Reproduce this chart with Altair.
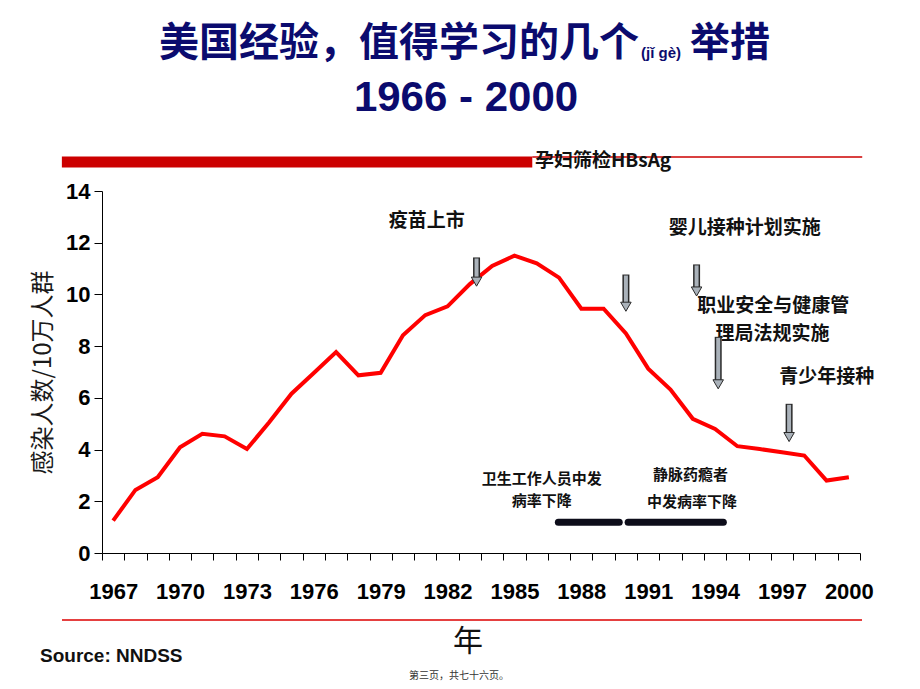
import altair as alt
import pandas as pd

# ---------------- data ----------------
years = list(range(1967, 2001))
incidence = [1.25, 2.44, 2.93, 4.09, 4.61, 4.51, 4.02, 5.06, 6.16, 6.96,
             7.77, 6.87, 6.97, 8.42, 9.20, 9.54, 10.40, 11.10, 11.50, 11.20,
             10.65, 9.45, 9.45, 8.49, 7.13, 6.32, 5.19, 4.80, 4.13, 4.02,
             3.90, 3.77, 2.80, 2.93]

first_label_year = 1967
label_step = 3
tick_bounds = [y - 0.5 for y in range(1967, 2002)]
y_ticks = [0, 2, 4, 6, 8, 10, 12, 14]

upper_notes = ["疫苗上市", "婴儿接种计划实施", "职业安全与健康管", "理局法规实施", "青少年接种"]
upper_x = [1981.07, 1995.33, 1996.61, 1996.57, 1999.01]
upper_y = [12.84, 12.58, 9.55, 8.48, 6.80]

lower_notes = ["卫生工作人员中发", "病率下降", "静脉药瘾者", "中发病率下降"]
lower_x = [1986.22, 1986.22, 1992.90, 1992.96]
lower_y = [2.85, 2.02, 3.02, 1.96]

arrow_x = [1983.30, 1990.00, 1993.17, 1994.14, 1997.32]
arrow_top = [11.43, 10.77, 11.16, 8.36, 5.77]
arrow_bottom = [10.32, 9.35, 9.94, 6.35, 4.31]

period_start = [1986.97, 1990.10]
period_end = [1989.70, 1994.37]
period_level = [1.19, 1.19]

screen_start = [1964.7]
screen_end = [1985.8]
screen_line_end = [2000.6]
screen_label = ["孕妇筛检HBsAg"]
screen_label_x = [1985.92]

# ---------------- styling ----------------
CJK = "Noto Sans CJK SC"
LAT = "Liberation Sans"
NAVY = "#0b0b6e"
RED = "#ff0000"
PLOT_W = 758
BAND = PLOT_W / 34.0

df = pd.DataFrame({"year": years, "rate": incidence})
df_up = pd.DataFrame({"year": upper_x, "rate": upper_y, "t": upper_notes})
df_low = pd.DataFrame({"year": lower_x, "rate": lower_y, "t": lower_notes})
df_arr = pd.DataFrame({"year": arrow_x, "rate": arrow_top, "bottom": arrow_bottom})
df_per = pd.DataFrame({"year": period_start, "x2": period_end, "rate": period_level})
df_scr = pd.DataFrame({"year": screen_start, "x2": screen_end, "x3": screen_line_end,
                       "lx": screen_label_x, "t": screen_label})
one = pd.DataFrame({"a": [0]})

xscale = alt.Scale(domain=[1966.5, 2000.5], nice=False, zero=False)
yscale = alt.Scale(domain=[0, 14], nice=False, zero=True)

label_expr = (f"(datum.value + 0.5 - {first_label_year}) % {label_step} == 0 && datum.value < 2000"
              " ? format(datum.value + 0.5, 'd') : ''")

XAX = alt.Axis(values=tick_bounds, labelExpr=label_expr, labelOffset=BAND / 2,
               title=None, tickSize=7, tickColor="black", domainColor="black",
               grid=False, orient="bottom", labelFlush=False, labelOverlap=False,
               labelPadding=21, labelFont=LAT, labelFontSize=22,
               labelFontWeight="bold", labelColor="black", labelBound=False)
YAX = alt.Axis(values=y_ticks, title="感染人数/10万人群", grid=False,
               tickSize=8, tickColor="black", domainColor="black",
               labelFont=LAT, labelFontSize=22, labelFontWeight="bold",
               labelColor="black", labelPadding=4,
               titleFont=CJK, titleFontSize=24, titleFontWeight="normal",
               titleColor="#1a1a1a", titlePadding=10)

def X(field="year:Q"):
    return alt.X(field, scale=xscale, axis=XAX)

def Y(field="rate:Q"):
    return alt.Y(field, scale=yscale, axis=YAX)

line = alt.Chart(df).mark_line(color=RED, strokeWidth=4).encode(x=X(), y=Y())

upper = alt.Chart(df_up).mark_text(font=CJK, fontSize=19, fontWeight="bold",
                                    color="#111111", align="center", baseline="middle").encode(
    x=X(), y=Y(), text="t:N")

lower = alt.Chart(df_low).mark_text(font=CJK, fontSize=15, fontWeight="bold",
                                     color="#111111", align="center", baseline="middle").encode(
    x=X(), y=Y(), text="t:N")

shaft_out = alt.Chart(df_arr).mark_rule(color="#2a2a2a", strokeWidth=7, y2Offset=-7).encode(
    x=X(), y=Y(), y2="bottom:Q")
shaft_in = alt.Chart(df_arr).mark_rule(color="#aab2ba", strokeWidth=4, yOffset=1, y2Offset=-6).encode(
    x=X(), y=Y(), y2="bottom:Q")
head = alt.Chart(df_arr).mark_point(shape="triangle-down", filled=True, fill="#aab2ba",
                                     stroke="#2a2a2a", strokeWidth=1, size=110,
                                     opacity=1, yOffset=-4.5).encode(
    x=X(), y=Y("bottom:Q"))

periods = alt.Chart(df_per).mark_rule(color="#0d0d1a", strokeWidth=7, strokeCap="round").encode(
    x=X(), x2="x2:Q", y=Y())

scr_bar = alt.Chart(df_scr).mark_rule(color="#cc0000", strokeWidth=11).encode(
    x=X(), x2="x2:Q", y=alt.value(-29))
scr_line = alt.Chart(df_scr).mark_rule(color="#cc0000", strokeWidth=1.5).encode(
    x=X("x2:Q"), x2="x3:Q", y=alt.value(-34))
scr_text = alt.Chart(df_scr).mark_text(font=CJK, fontSize=19, fontWeight="bold",
                                        color="#111111", align="left", baseline="middle").encode(
    x=X("lx:Q"), y=alt.value(-30), text="t:N")

def label(text, x, y, **kw):
    return alt.Chart(one).mark_text(text=text, **kw).encode(x=alt.value(x), y=alt.value(y))

t1 = label("美国经验，值得学习的几个", 537, -147, font=CJK, fontSize=40, fontWeight="bold",
           color=NAVY, align="right", baseline="middle")
t2 = label("(jǐ gè)", 539, -138, font=LAT, fontSize=15, fontWeight="bold",
           color=NAVY, align="left", baseline="middle")
t3 = label("举措", 588, -147, font=CJK, fontSize=40, fontWeight="bold",
           color=NAVY, align="left", baseline="middle")
t4 = label("1966 - 2000", 364, -93, font=LAT, fontSize=42, fontWeight="bold",
           color=NAVY, align="center", baseline="middle")

bottom_line = alt.Chart(one).mark_rule(color="#dd0000", strokeWidth=1.5).encode(
    x=alt.value(-40), x2=alt.value(760), y=alt.value(429))
year_title = label("年", 366, 451, font=CJK, fontSize=30, fontWeight="normal",
                   color="#111111", align="center", baseline="middle")
source = label("Source: NNDSS", -62, 465, font=LAT, fontSize=19, fontWeight="bold",
               color="#111111", align="left", baseline="middle")
footer = label("第三页，共七十六页。", 357, 485, font=CJK, fontSize=10, fontWeight="normal",
               color="#333333", align="center", baseline="middle")

chart = alt.layer(
    line, upper, lower, shaft_out, shaft_in, head, periods,
    scr_bar, scr_line, scr_text, t1, t2, t3, t4, bottom_line, year_title, source, footer,
).properties(
    width=PLOT_W, height=362,
    padding={"left": 102, "top": 191, "right": 60, "bottom": 136},
    autosize="none",
).configure_view(stroke=None)

chart.save("out.html", embed_options={"renderer": "svg", "actions": False})
